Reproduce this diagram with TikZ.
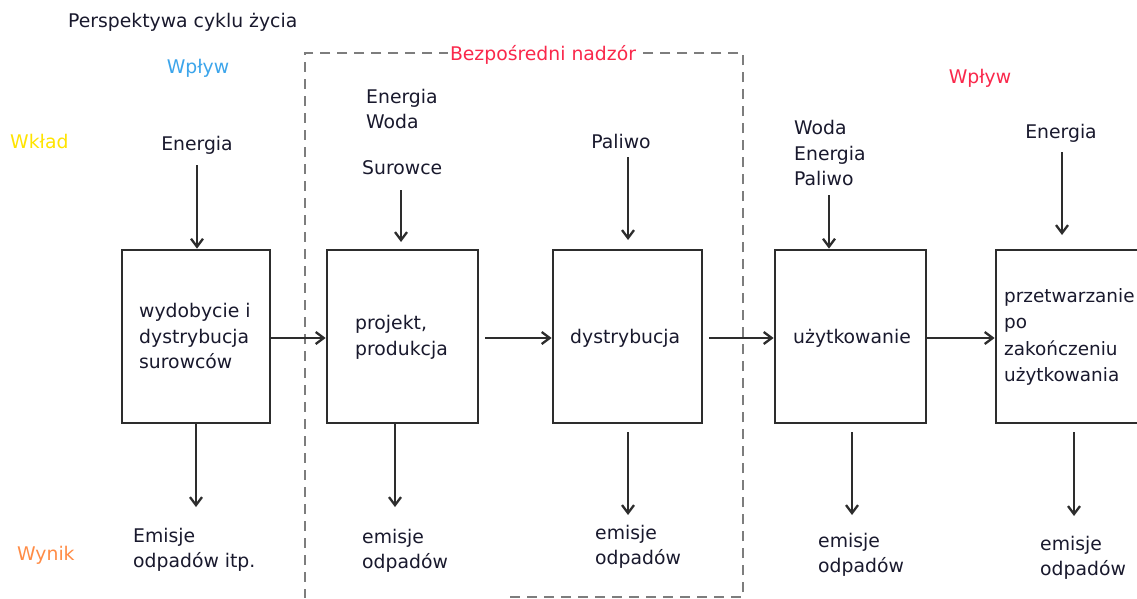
\documentclass[tikz,border=0pt]{standalone}
\usepackage{fontspec}
\setmainfont{DejaVu Sans}
\usetikzlibrary{arrows.meta}
\definecolor{txt}{RGB}{25,25,45}
\definecolor{wblue}{RGB}{60,165,235}
\definecolor{wyellow}{RGB}{255,228,0}
\definecolor{wred}{RGB}{250,40,75}
\definecolor{worange}{RGB}{255,140,70}
\definecolor{boxline}{RGB}{45,45,45}
\definecolor{dashgray}{RGB}{125,125,125}
\tikzset{
  stagebox/.style={draw=boxline, line width=2.8pt, minimum height=173pt, inner sep=0pt},
  lbl/.style={font=\fontsize{18.8}{25.5}\selectfont, text=txt, inner sep=0pt, align=left},
  flow/.style={draw=boxline, line width=2.3pt, -{Straight Barb[length=8pt,width=12pt,line width=2.3pt]}},
}
\begin{document}
\begin{tikzpicture}[x=1pt,y=-1pt]
\useasboundingbox[fill=white] (0,0) rectangle (1137,598);
% dashed frame
\draw[dashgray, line width=2.6pt, dash pattern=on 10pt off 7pt]
  (510,597) -- (743,597) -- (743,53) -- (305,53) -- (305,598);
\node[lbl, text=wred, fill=white, inner xsep=2pt, inner ysep=2pt] (nadzor) at (543,55) {Bezpośredni nadzór};
% stage boxes
\node[stagebox, minimum width=148pt] (b1) at (196,336.5) {};
\node[stagebox, minimum width=151pt] (b2) at (402.5,336.5) {};
\node[stagebox, minimum width=149pt] (b3) at (627.5,336.5) {};
\node[stagebox, minimum width=151pt] (b4) at (850.5,336.5) {};
\node[stagebox, minimum width=160pt] (b5) at (1076,336.5) {};
% box texts
\node[lbl, anchor=west] (t1) at (139,336) {wydobycie i\\dystrybucja\\surowców};
\node[lbl, anchor=west] (t2) at (355,337.5) {projekt,\\produkcja};
\node[lbl, anchor=west] (t3) at (570,338) {dystrybucja};
\node[lbl, anchor=west] (t4) at (793,338) {użytkowanie};
\node[lbl, anchor=west, font=\fontsize{18.4}{26.5}\selectfont] (t5) at (1004,337) {przetwarzanie\\po\\zakończeniu\\użytkowania};
% headings
\node[lbl, anchor=west] (title) at (68,22) {Perspektywa cyklu życia};
\node[lbl, text=wblue] (wp1) at (198,68) {Wpływ};
\node[lbl, text=wyellow, anchor=west] (wklad) at (10,141) {Wkład};
\node[lbl, text=wred] (wp2) at (980,78) {Wpływ};
\node[lbl, text=worange, anchor=west] (wynik) at (17,555) {Wynik};
% inputs
\node[lbl] (in1) at (197,145) {Energia};
\node[lbl, anchor=west] (in2a) at (366,109) {Energia\\Woda};
\node[lbl, anchor=west] (in2) at (362,168) {Surowce};
\node[lbl] (in3) at (621,141) {Paliwo};
\node[lbl, anchor=west] (in4) at (794,153) {Woda\\Energia\\Paliwo};
\node[lbl] (in5) at (1061,133) {Energia};
% outputs
\node[lbl, anchor=west] (out1) at (133,550) {Emisje\\odpadów itp.};
\node[lbl, anchor=west] (out2) at (362,551) {emisje\\odpadów};
\node[lbl, anchor=west] (out3) at (595,547) {emisje\\odpadów};
\node[lbl, anchor=west] (out4) at (818,555) {emisje\\odpadów};
\node[lbl, anchor=west] (out5) at (1040,558) {emisje\\odpadów};
% coordinates for free ends
\coordinate (s1) at (197,165);
\coordinate (s2) at (401,190);
\coordinate (e2) at (401,242);
\coordinate (s3) at (628,157);
\coordinate (e3) at (628,240);
\coordinate (s4) at (829,195);
\coordinate (s5) at (1062,152);
\coordinate (e5) at (1062,235);
\coordinate (d1) at (196,507);
\coordinate (d2) at (395,507);
\coordinate (u3) at (628,432);
\coordinate (d3) at (628,515);
\coordinate (u4) at (852,432);
\coordinate (d4) at (852,515);
\coordinate (u5) at (1074,432);
\coordinate (d5) at (1074,516);
\coordinate (h2) at (485,338);
\coordinate (h3) at (709,338);
% input arrows
\draw[flow] (s1) -- (s1 |- b1.north);
\draw[flow] (s2) -- (e2);
\draw[flow] (s3) -- (e3);
\draw[flow] (s4) -- (s4 |- b4.north);
\draw[flow] (s5) -- (e5);
% flow arrows
\draw[flow] (b1.east |- h2) -- (b2.west |- h2);
\draw[flow] (h2) -- (b3.west |- h2);
\draw[flow] (h3) -- (b4.west |- h3);
\draw[flow] (b4.east |- h3) -- (b5.west |- h3);
% output arrows
\draw[flow] (d1 |- b1.south) -- (d1);
\draw[flow] (d2 |- b2.south) -- (d2);
\draw[flow] (u3) -- (d3);
\draw[flow] (u4) -- (d4);
\draw[flow] (u5) -- (d5);
\end{tikzpicture}
\end{document}
